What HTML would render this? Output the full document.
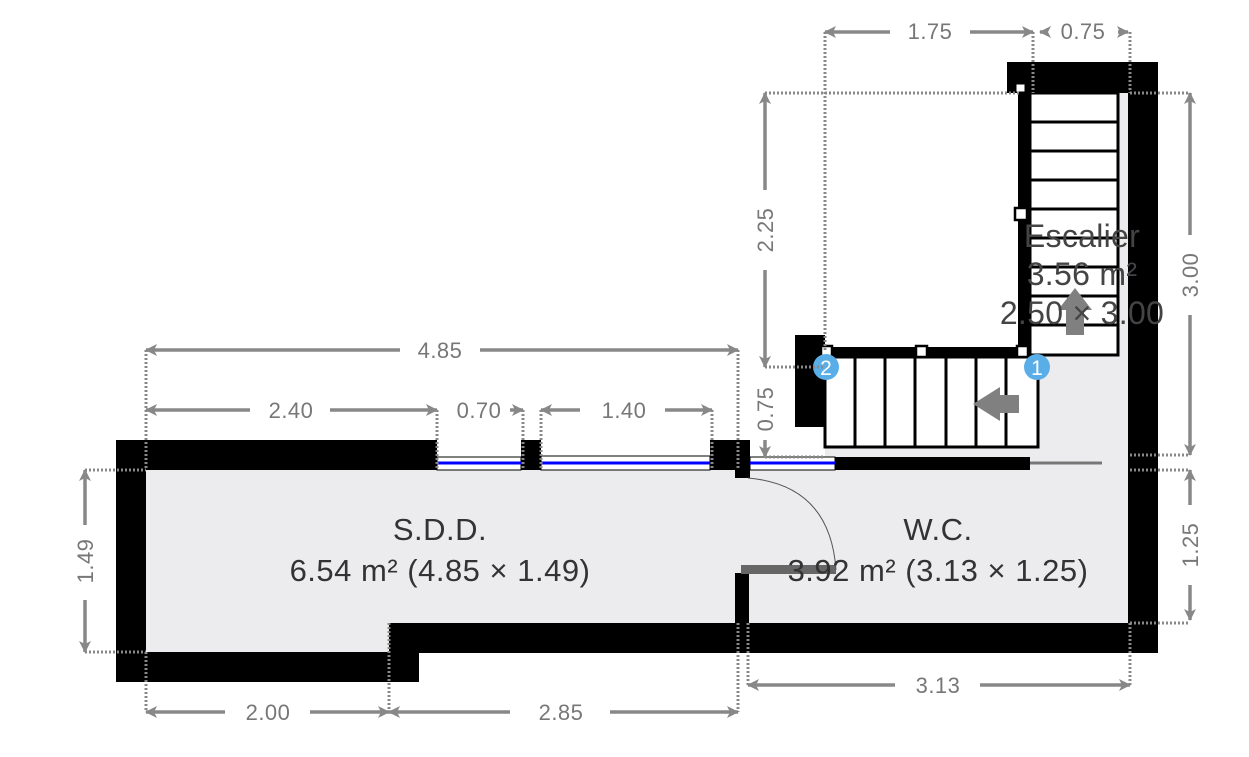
<!DOCTYPE html>
<html><head><meta charset="utf-8"><style>
html,body{margin:0;padding:0;background:#fff}
svg{display:block}
.d{stroke:#888;stroke-width:3.5;fill:none}
.x{stroke:#888;stroke-width:3;stroke-dasharray:2 2;fill:none}
.t{font-family:"Liberation Sans",sans-serif;font-size:22px;fill:#777;text-anchor:middle;letter-spacing:0.5px}
.r{font-family:"Liberation Sans",sans-serif;font-size:31px;fill:#333;text-anchor:middle;letter-spacing:0.5px}
.e{font-family:"Liberation Sans",sans-serif;font-size:32px;fill:#444;text-anchor:middle;letter-spacing:0.3px}
</style></head><body>
<svg width="1249" height="757" viewBox="0 0 1249 757" xmlns="http://www.w3.org/2000/svg">
<defs>
<marker id="a" viewBox="0 0 12 12" refX="11" refY="6" markerWidth="12" markerHeight="12" markerUnits="userSpaceOnUse" orient="auto-start-reverse"><path d="M0,0 L12,6 L0,12 L3,6z" fill="#888"/></marker>
</defs>
<rect x="146" y="470" width="602" height="155" fill="#ececee"/>
<rect x="146" y="620" width="243" height="32" fill="#ececee"/>
<rect x="748" y="470" width="380" height="155" fill="#ececee"/>
<rect x="1038" y="355" width="90" height="115" fill="#ececee"/>
<rect x="1110" y="93" width="18" height="270" fill="#ececee"/>
<rect x="825" y="448" width="303" height="25" fill="#ececee"/>
<rect x="1030" y="93" width="88" height="262" fill="#fff" stroke="#000" stroke-width="3"/>
<g stroke="#000" stroke-width="3">
<line x1="1030" y1="122" x2="1118" y2="122"/><line x1="1030" y1="151" x2="1118" y2="151"/>
<line x1="1030" y1="180" x2="1118" y2="180"/><line x1="1030" y1="209" x2="1118" y2="209"/>
<line x1="1030" y1="238" x2="1118" y2="238"/><line x1="1030" y1="267" x2="1118" y2="267"/>
<line x1="1030" y1="296" x2="1118" y2="296"/><line x1="1030" y1="325" x2="1118" y2="325"/>
</g>
<rect x="825" y="357" width="213" height="90" fill="#fff" stroke="#000" stroke-width="3"/>
<g stroke="#000" stroke-width="3">
<line x1="855" y1="357" x2="855" y2="447"/><line x1="885" y1="357" x2="885" y2="447"/>
<line x1="915" y1="357" x2="915" y2="447"/><line x1="946" y1="357" x2="946" y2="447"/>
<line x1="976" y1="357" x2="976" y2="447"/><line x1="1006" y1="357" x2="1006" y2="447"/>
</g>
<path d="M1019,395 L1000,395 L1000,387 L973,404 L1000,421 L1000,413 L1019,413z" fill="#808080"/>
<path d="M1066,335 L1066,310 L1058,310 L1075,288 L1092,310 L1084,310 L1084,335z" fill="#808080"/>
<g fill="#000">
<rect x="116" y="440" width="321" height="30"/>
<rect x="521" y="440" width="20" height="30"/>
<rect x="710" y="440" width="40" height="30"/>
<rect x="735" y="460" width="15" height="18"/>
<rect x="116" y="440" width="30" height="242"/>
<rect x="116" y="652" width="303" height="30"/>
<rect x="389" y="623" width="769" height="30"/>
<rect x="1128" y="62" width="30" height="591"/>
<rect x="1007" y="62" width="151" height="31"/>
<rect x="835" y="457" width="195" height="13"/>
<rect x="735" y="573" width="14" height="52"/>
<rect x="795" y="335" width="30" height="92"/>
<rect x="1018" y="88" width="12" height="270"/>
<rect x="825" y="347" width="205" height="10"/>
</g>
<rect x="741" y="565" width="95" height="9" fill="#666"/>
<line x1="1030" y1="463" x2="1102" y2="463" stroke="#777" stroke-width="3"/>
<rect x="437" y="457" width="84" height="13" fill="#fff" stroke="#000" stroke-width="1"/>
<line x1="437" y1="463" x2="521" y2="463" stroke="#0000ff" stroke-width="3"/>
<rect x="541" y="456" width="169" height="14" fill="#fff" stroke="#000" stroke-width="1"/>
<line x1="541" y1="463" x2="710" y2="463" stroke="#0000ff" stroke-width="3"/>
<rect x="750" y="457" width="85" height="13" fill="#fff" stroke="#000" stroke-width="1"/>
<line x1="750" y1="463" x2="835" y2="463" stroke="#0000ff" stroke-width="3"/>
<path d="M748,478 Q830,485 836,570" stroke="#555" stroke-width="1" fill="none"/>
<g fill="#fff" stroke="#000" stroke-width="2.5">
<rect x="821" y="346" width="11" height="11"/><rect x="916" y="346" width="11" height="11"/>
<rect x="1017" y="346" width="11" height="11"/><rect x="1015" y="208" width="12" height="12"/>
<rect x="1016" y="84" width="9" height="8" stroke-width="1"/>
</g>
<circle cx="826" cy="367" r="13" fill="#5aaee8"/><text x="826" y="375" font-family="Liberation Sans,sans-serif" font-size="21" fill="#fff" text-anchor="middle">2</text>
<circle cx="1037" cy="367" r="13" fill="#5aaee8"/><text x="1037" y="375" font-family="Liberation Sans,sans-serif" font-size="21" fill="#fff" text-anchor="middle">1</text>
<text class="r" x="440" y="540">S.D.D.</text>
<text class="r" x="440" y="581">6.54 m² (4.85 × 1.49)</text>
<text class="r" x="938" y="540">W.C.</text>
<text class="r" x="938" y="581">3.92 m² (3.13 × 1.25)</text>
<text class="e" x="1082" y="247">Escalier</text>
<text class="e" x="1082" y="285">3.56 m²</text>
<text class="e" x="1082" y="324">2.50 × 3.00</text>
<g class="x">
<path d="M825,32 V350 M1033,32 V93 M1130,32 V93"/>
<path d="M765,93 H1020 M1130,93 H1190 M1130,455 H1190 M1130,470 H1190 M1130,623 H1190"/>
<path d="M765,367 H825 M765,457 H825"/>
<path d="M146,350 V470 M738,350 V470 M437,410 V470 M523,410 V470 M541,410 V470 M712,410 V470"/>
<path d="M85,470 H146 M85,652 H146"/>
<path d="M146,652 V712 M389,623 V712 M738,623 V712 M748,623 V685 M1130,623 V685"/>
</g>
<g class="d">
<path d="M825,32 H890" marker-start="url(#a)"/><path d="M970,32 H1033" marker-end="url(#a)"/>
<path d="M1040,32 H1048" marker-start="url(#a)"/><path d="M1118,32 H1128" marker-end="url(#a)"/>
<path d="M1190,93 V235" marker-start="url(#a)"/><path d="M1190,315 V455" marker-end="url(#a)"/>
<path d="M1190,470 V505" marker-start="url(#a)"/><path d="M1190,585 V620" marker-end="url(#a)"/>
<path d="M765,93 V190" marker-start="url(#a)"/><path d="M765,270 V367" marker-end="url(#a)"/>
<path d="M765,440 V457" marker-end="url(#a)"/>
<path d="M146,350 H400" marker-start="url(#a)"/><path d="M480,350 H738" marker-end="url(#a)"/>
<path d="M146,410 H250" marker-start="url(#a)"/><path d="M330,410 H437" marker-end="url(#a)"/>
<path d="M541,410 H580" marker-start="url(#a)"/><path d="M665,410 H712" marker-end="url(#a)"/>
<path d="M510,410 H523" marker-end="url(#a)"/>
<path d="M85,470 V525" marker-start="url(#a)"/><path d="M85,600 V652" marker-end="url(#a)"/>
<path d="M146,712 H225" marker-start="url(#a)"/><path d="M310,712 H389" marker-end="url(#a)"/>
<path d="M389,712 H510" marker-start="url(#a)"/><path d="M610,712 H738" marker-end="url(#a)"/>
<path d="M748,685 H895" marker-start="url(#a)"/><path d="M980,685 H1130" marker-end="url(#a)"/>
</g>
<text class="t" x="930" y="39">1.75</text>
<text class="t" x="1083" y="39">0.75</text>
<text class="t" x="440" y="358">4.85</text>
<text class="t" x="291" y="418">2.40</text>
<text class="t" x="479" y="418">0.70</text>
<text class="t" x="624" y="418">1.40</text>
<text class="t" x="268" y="720">2.00</text>
<text class="t" x="561" y="720">2.85</text>
<text class="t" x="938" y="693">3.13</text>
<text class="t" transform="translate(1198,275) rotate(-90)">3.00</text>
<text class="t" transform="translate(1198,545) rotate(-90)">1.25</text>
<text class="t" transform="translate(773,230) rotate(-90)">2.25</text>
<text class="t" transform="translate(773,409) rotate(-90)">0.75</text>
<text class="t" transform="translate(93,561) rotate(-90)">1.49</text>
</svg>
</body></html>
